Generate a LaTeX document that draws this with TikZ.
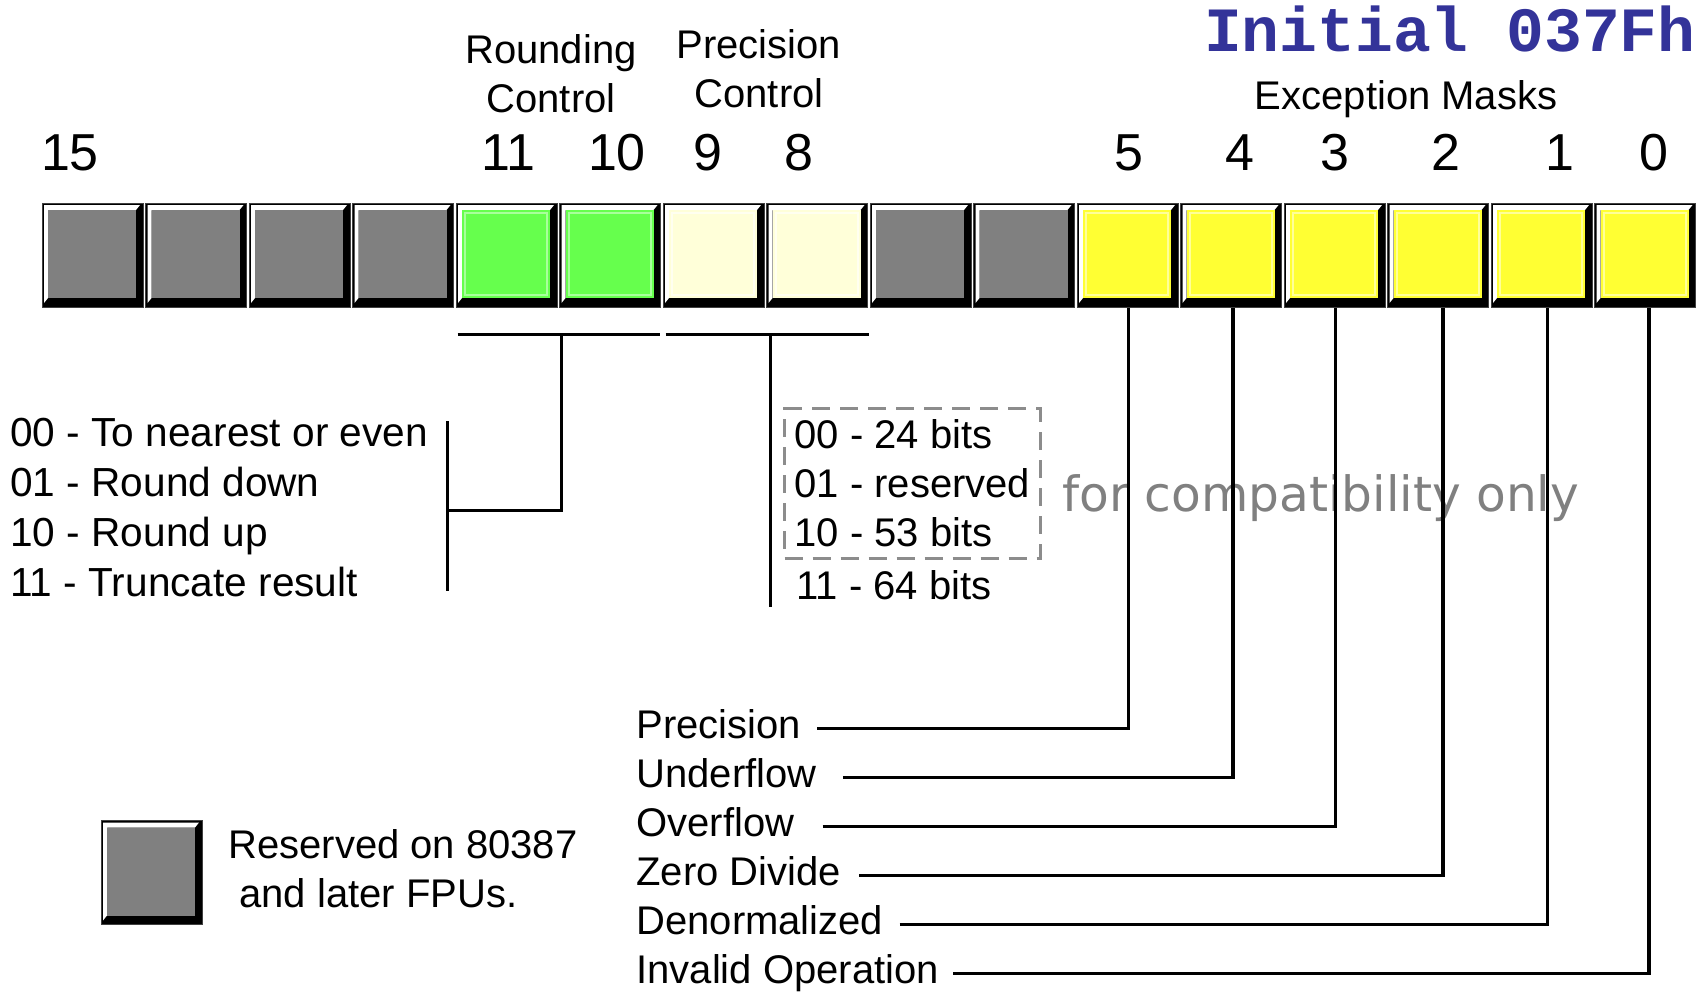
\documentclass[tikz,border=0pt]{standalone}
\usepackage{fontspec}
\setmainfont{Liberation Sans}
\newfontfamily\titlefont{Liberation Mono}
\newfontfamily\notefont{DejaVu Sans}
\usetikzlibrary{calc}
\definecolor{rsvgray}{HTML}{808080}
\definecolor{rcgreen}{HTML}{66FF4D}
\definecolor{rcline}{HTML}{A8FF9C}
\definecolor{pccream}{HTML}{FFFFD9}
\definecolor{pcline}{HTML}{FFFFF0}
\definecolor{exyellow}{HTML}{FFFF33}
\definecolor{exline}{HTML}{FFFF99}
\definecolor{titleblue}{HTML}{333399}
\definecolor{notegray}{HTML}{808080}
\definecolor{dashgray}{HTML}{8C8C8C}
\tikzset{
  bitbox/.style n args={2}{minimum width=50.5pt, minimum height=52pt, inner sep=0pt,
    fill=black, draw=black!75, line width=0.5pt,
    path picture={
      \fill[white] ([shift={(1pt,-1pt)}]path picture bounding box.north west)
        -- ([shift={(-1.5pt,-1pt)}]path picture bounding box.north east)
        -- ([shift={(-3.5pt,-3.5pt)}]path picture bounding box.north east)
        -- ([shift={(3pt,-3.5pt)}]path picture bounding box.north west)
        -- ([shift={(3pt,4.5pt)}]path picture bounding box.south west)
        -- ([shift={(1pt,2pt)}]path picture bounding box.south west) -- cycle;
      \fill[#1] ([shift={(3pt,-3.5pt)}]path picture bounding box.north west)
        rectangle ([shift={(-3.5pt,4.5pt)}]path picture bounding box.south east);
      \draw[#2, line width=1pt] ([shift={(4.5pt,-5pt)}]path picture bounding box.north west)
        rectangle ([shift={(-5pt,6pt)}]path picture bounding box.south east);
    }},
  bitnum/.style={font=\fontsize{26}{30}\selectfont, anchor=base, inner sep=0pt},
  ttl/.style={align=center, inner sep=0pt, font=\fontsize{20}{24.5}\selectfont},
  lst/.style={align=left, inner sep=0pt, font=\fontsize{20}{24.6}\selectfont},
  exlbl/.style={inner sep=0pt, anchor=base west},
  bracket/.style={line width=1.6pt, draw=black},
  note/.style={text=notegray, inner sep=0pt, font=\notefont\fontsize{24.3}{29}\selectfont}
}
\begin{document}
\begin{tikzpicture}[x=0.5pt, y=-0.5pt, font=\fontsize{20}{24.5}\selectfont]
  \useasboundingbox (0,0) rectangle (1702,992);
  % control word cells, bit 15 at the left
  \foreach \bit/\fc/\lc [evaluate=\bit as \x using {92.5+103.5*(15-\bit)}] in
    {15/rsvgray/rsvgray, 14/rsvgray/rsvgray, 13/rsvgray/rsvgray, 12/rsvgray/rsvgray,
     11/rcgreen/rcline, 10/rcgreen/rcline, 9/pccream/pcline, 8/pccream/pcline,
     7/rsvgray/rsvgray, 6/rsvgray/rsvgray, 5/exyellow/exline, 4/exyellow/exline,
     3/exyellow/exline, 2/exyellow/exline, 1/exyellow/exline, 0/exyellow/exline}
    \node[bitbox={\fc}{\lc}] (b\bit) at (\x,255) {};
  % bit numbers
  \foreach \n/\x in {15/70, 11/508, 10/617, 9/708, 8/799, 5/1129, 4/1240, 3/1335, 2/1446, 1/1560, 0/1654}
    \node[bitnum] (n\n) at (\x,170) {\n};
  % titles
  \node[anchor=base east, inner sep=0pt, text=titleblue,
        font=\titlefont\bfseries\fontsize{31.5}{36}\selectfont] (title) at (1696,51) {Initial 037Fh};
  \node[ttl, anchor=north] (rctitle) at (551,34) {Rounding\\Control};
  \node[ttl, anchor=north] (pctitle) at (759,29) {Precision\\Control};
  \node[ttl, anchor=base] (extitle) at (1406,109) {Exception Masks};

  % rounding control
  \node[lst, anchor=north west, font=\fontsize{20.3}{25}\selectfont] (rlist) at (10,418)
    {00 - To nearest or even\\01 - Round down\\10 - Round up\\11 - Truncate result};
  \coordinate (rcL) at ($(b11.south west)+(2,27)$);
  \coordinate (rcR) at ($(b10.south east)+(-1,27)$);
  \coordinate (rcM) at ($(rcL)!0.5!(rcR)+(3,0)$);
  \coordinate (rbarT) at ($(rlist.north east)+(19,3)$);
  \coordinate (rbarB) at ($(rlist.south east)+(19,-7)$);
  \draw[bracket] (rcL) -- (rcR);
  \draw[bracket] (rbarT) -- (rbarB);
  \draw[bracket] (rcM) |- ($(rbarT)!0.53!(rbarB)$);

  % precision control
  \node[lst, anchor=north west, draw=dashgray, line width=1.5pt, dash pattern=on 9pt off 5pt,
        inner xsep=5pt, inner ysep=5.5pt] (plist) at (783,407)
    {00 - 24 bits\\01 - reserved\\10 - 53 bits};
  \node[lst, anchor=base west] (plast) at (796,599) {11 - 64 bits};
  \node[note, anchor=base west] (compat) at (1062,511) {for compatibility only};
  \coordinate (pcL) at ($(b9.south west)+(3,27)$);
  \coordinate (pcR) at ($(b8.south east)+(1,27)$);
  \coordinate (pcM) at ($(pcL)!0.5!(pcR)+(3,0)$);
  \draw[bracket] (pcL) -- (pcR);
  \draw[bracket] (pcM) -- ($(pcM)+(0,272)$);

  % exception masks
  \foreach \k/\txt/\y/\gap/\dx in {5/Precision/738/8/1, 4/Underflow/787/13/2, 3/Overflow/836/14/1,
      2/Zero Divide/885/9/5, 1/Denormalized/934/8/6, 0/Invalid Operation/983/7/4} {
    \node[exlbl] (ex\k) at (636,\y) {\txt};
    \draw[bracket] ([xshift=\gap pt, yshift=2.2pt]ex\k.mid east) -| ($(b\k.south)+(\dx,0)$);
  }

  % key
  \node[bitbox={rsvgray}{rsvgray}] (key) at (151.5,872.5) {};
  \node[lst, anchor=north west] (keytext) at (228,829) {Reserved on 80387\\\ and later FPUs.};
\end{tikzpicture}
\end{document}
